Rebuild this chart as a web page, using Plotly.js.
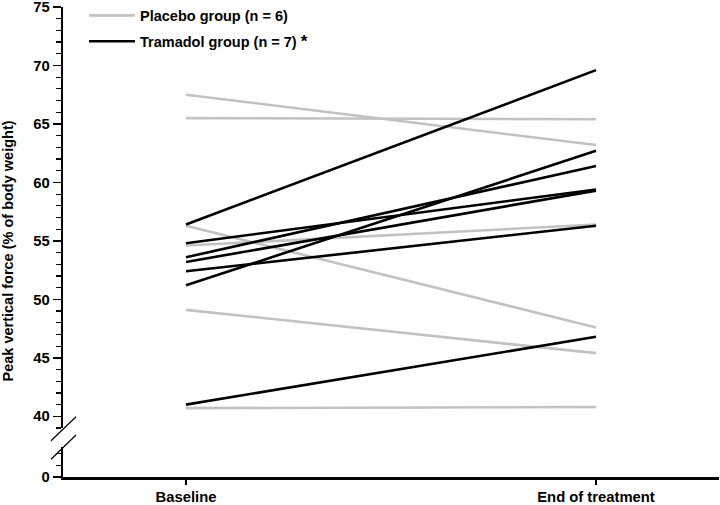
<!DOCTYPE html>
<html>
<head>
<meta charset="utf-8">
<script src="https://cdn.plot.ly/plotly-3.0.1.min.js"></script>
<style>
  html, body { margin: 0; padding: 0; background: #fff; }
  #chart { width: 720px; height: 505px; }
</style>
</head>
<body>
<div id="chart"></div>
<script>
// Puntos de tiempo
const timepoints = ['Baseline', 'End of treatment'];

// Placebo (n = 6): valor basal y al final del tratamiento
const placeboBaseline = [67.5, 65.5, 56.3, 54.6, 49.1, 40.7];
const placeboEnd      = [63.2, 65.4, 47.6, 56.4, 45.4, 40.8];

// Tramadol (n = 7)
const tramadolBaseline = [56.4, 54.8, 53.6, 53.2, 52.4, 51.2, 41.0];
const tramadolEnd      = [69.6, 59.4, 61.4, 59.3, 56.3, 62.7, 46.8];

const grey = '#c2c2c2';
const black = '#000000';
const boldFont = { family: 'Liberation Sans, Arial, sans-serif', size: 14.8, color: '#000', weight: 'bold' };

const traces = [];

placeboBaseline.forEach((b, i) => {
  traces.push({
    x: timepoints, y: [b, placeboEnd[i]], mode: 'lines', type: 'scatter',
    line: { color: grey, width: 2.6 },
    name: 'Placebo group (n = 6)', legendgroup: 'placebo', showlegend: i === 0,
    hoverinfo: 'skip'
  });
});

tramadolBaseline.forEach((b, i) => {
  traces.push({
    x: timepoints, y: [b, tramadolEnd[i]], mode: 'lines', type: 'scatter',
    line: { color: black, width: 2.6 },
    name: 'Tramadol group (n = 7) <span style="font-size:17px">*</span>', legendgroup: 'tramadol', showlegend: i === 0,
    hoverinfo: 'skip'
  });
});

// traza vacía para que se dibuje el tramo inferior del eje (0)
traces.push({ x: [], y: [], yaxis: 'y2', showlegend: false, hoverinfo: 'skip' });

// Marcas del corte del eje Y (coordenadas de papel)
const T = 7;
const W = 656, H = 477 - T;
const px = v => (v - 63) / W;
const py = v => (477 - v) / H;
const breakMark = (x0, y0, x1, y1) => ({
  type: 'line', xref: 'paper', yref: 'paper',
  x0: px(x0), y0: py(y0), x1: px(x1), y1: py(y1),
  line: { color: '#000', width: 1.2 }
});

const layout = {
  width: 720, height: 505,
  margin: { l: 63, r: 1, t: T, b: 28, autoexpand: false },
  paper_bgcolor: '#fff', plot_bgcolor: '#fff',
  showlegend: true,
  legend: {
    x: 0.032, y: 1.016, xanchor: 'left', yanchor: 'top',
    font: { ...boldFont, size: 14.5 }, bgcolor: 'rgba(0,0,0,0)',
    traceorder: 'grouped', tracegroupgap: 4, itemwidth: 46
  },
  xaxis: {
    type: 'category', range: [-0.3, 1.3], anchor: 'y2',
    showline: true, linecolor: '#000', linewidth: 2.5,
    ticks: 'outside', ticklen: 5, tickwidth: 1.5, tickcolor: '#000',
    ticklabelstandoff: 0,
    showgrid: false, zeroline: false, tickfont: boldFont
  },
  yaxis: {
    domain: [py(428), 1], range: [39, 75],
    tickmode: 'linear', tick0: 0, dtick: 5, ticklabeloverflow: 'allow',
    showline: true, linecolor: '#000', linewidth: 2.2,
    ticks: 'outside', ticklen: 8, tickwidth: 1.5, tickcolor: '#000',
    minor: { dtick: 1, ticks: 'outside', ticklen: 5, tickwidth: 1.2, tickcolor: '#000', showgrid: false },
    showgrid: false, zeroline: false, tickfont: boldFont
  },
  yaxis2: {
    domain: [0, py(447)], range: [0, 2.55], anchor: 'x',
    tickmode: 'linear', tick0: 0, dtick: 5, ticklabeloverflow: 'allow',
    showline: true, linecolor: '#000', linewidth: 2.2,
    ticks: 'outside', ticklen: 8, tickwidth: 1.5, tickcolor: '#000',
    minor: { dtick: 1, ticks: 'outside', ticklen: 5, tickwidth: 1.2, tickcolor: '#000', showgrid: false },
    showgrid: false, zeroline: false, tickfont: boldFont
  },
  shapes: [
    breakMark(51, 440.7, 76, 416.7),
    breakMark(51, 459.3, 76, 435)
  ],
  annotations: [{
    text: 'Peak vertical force (% of body weight)',
    xref: 'paper', yref: 'paper', x: px(7.5), y: py(251),
    xanchor: 'center', yanchor: 'middle', textangle: -90, showarrow: false,
    font: { family: 'Liberation Sans, Arial, sans-serif', size: 14.5, color: '#000', weight: 'bold' }
  }]
};

Plotly.newPlot('chart', traces, layout, { displayModeBar: false, staticPlot: true });
</script>
</body>
</html>
